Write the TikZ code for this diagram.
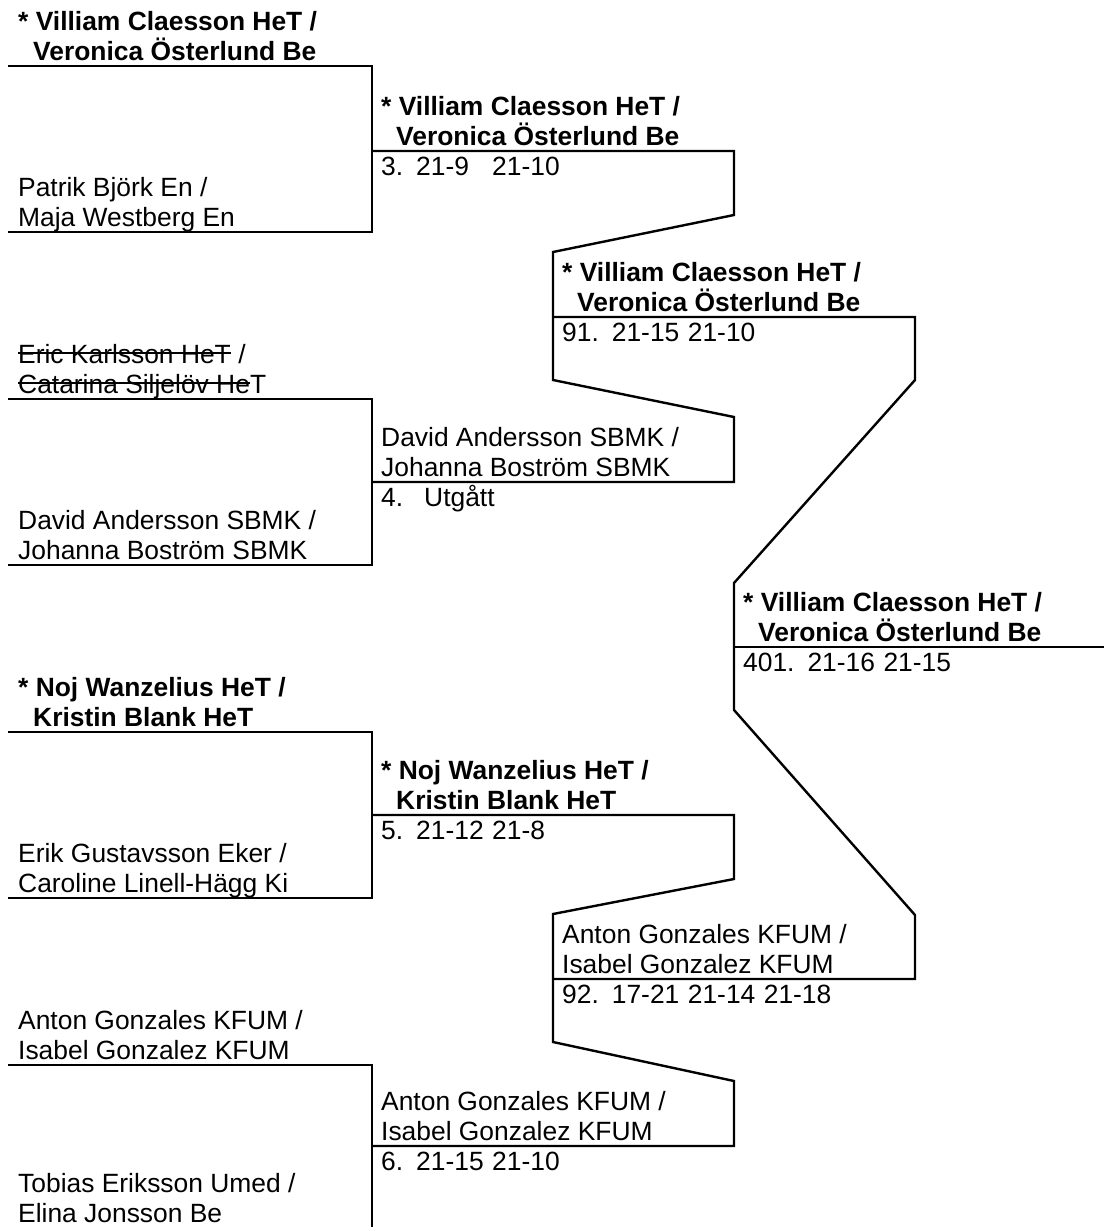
\documentclass[tikz,border=0pt]{standalone}
\usepackage{fontspec}
\setmainfont{Liberation Sans}
\usetikzlibrary{calc, positioning}

\newsavebox\strkbox
\newcommand\strk[1]{\sbox\strkbox{#1}\rlap{\rule[0.36em]{\wd\strkbox}{0.07em}}\usebox\strkbox}
\newcommand\gscore[1]{\makebox[76pt][l]{#1}}

\begin{document}
\begin{tikzpicture}[x=1pt,y=-1pt,line width=2.4pt,
	player/.style={anchor=base west, align=left, inner sep=0pt, font=\fontsize{26.4}{30}\selectfont},
	winner/.style={player, font=\fontsize{26.4}{30}\selectfont\bfseries},
	result/.style={player}]

	\useasboundingbox (0,0) rectangle (1104,1227);

	\coordinate (A1) at (8,66);
	\coordinate (A2) at (8,232);
	\coordinate (A3) at (8,399);
	\coordinate (A4) at (8,565);
	\coordinate (A5) at (8,732);
	\coordinate (A6) at (8,898);
	\coordinate (A7) at (8,1065);
	\coordinate (A8) at (8,1228);
	\coordinate (B1) at (372,151);
	\coordinate (B2) at (372,482);
	\coordinate (B3) at (372,815);
	\coordinate (B4) at (372,1146);
	\coordinate (C1) at (553,317);
	\coordinate (C2) at (553,979);
	\coordinate (D1) at (734,647);
	\coordinate (D2) at (1104,647);
	\coordinate (E) at (372,1227);

	\draw (A1) -- (A1 -| B1) -- (A2 -| B1) -- (A2);
	\draw (A3) -- (A3 -| B2) -- (A4 -| B2) -- (A4);
	\draw (A5) -- (A5 -| B3) -- (A6 -| B3) -- (A6);
	\draw (A7) -- (A7 -| B4) -- (E);

	\draw (B1) -- ++(362,0) -- ++(0,64) -- ($(C1)+(0,-65)$) -- ($(C1)+(0,63)$) -- ($(B2)+(362,-65)$) -- ($(B2)+(362,0)$) -- (B2);
	\draw (B3) -- ++(362,0) -- ++(0,64) -- ($(C2)+(0,-65)$) -- ($(C2)+(0,63)$) -- ($(B4)+(362,-65)$) -- ($(B4)+(362,0)$) -- (B4);

	\draw (C1) -- ++(362,0) -- ++(0,63) -- ($(D1)+(0,-64)$) -- ($(D1)+(0,63)$) -- ($(C2)+(362,-64)$) -- ($(C2)+(362,0)$) -- (C2);
	\draw (D1) -- (D2);

	\node[winner] (p1) at ($(A1)+(9,-6)$) {* Villiam Claesson HeT /\\\hspace*{15pt}Veronica Österlund Be};
	\node[player] (p2) at ($(A2)+(9,-6)$) {Patrik Björk En /\\Maja Westberg En};
	\node[player] (p3) at ($(A3)+(9,-6)$) {\strk{Eric Karlsson HeT} /\\\strk{Catarina Siljelöv He}T};
	\node[player] (p4) at ($(A4)+(9,-6)$) {David Andersson SBMK /\\Johanna Boström SBMK};
	\node[winner] (p5) at ($(A5)+(9,-6)$) {* Noj Wanzelius HeT /\\\hspace*{15pt}Kristin Blank HeT};
	\node[player] (p6) at ($(A6)+(9,-6)$) {Erik Gustavsson Eker /\\Caroline Linell-Hägg Ki};
	\node[player] (p7) at ($(A7)+(9,-6)$) {Anton Gonzales KFUM /\\Isabel Gonzalez KFUM};
	\node[player] (p8) at ($(A8)+(9,-6)$) {Tobias Eriksson Umed /\\Elina Jonsson Be};

	\node[winner] (q1) at ($(B1)+(8,-6)$) {* Villiam Claesson HeT /\\\hspace*{15pt}Veronica Österlund Be};
	\node[result] (r1) at ($(B1)+(8,24)$) {3.\hspace{13pt}\gscore{21-9}\gscore{21-10}};
	\node[player] (q2) at ($(B2)+(8,-6)$) {David Andersson SBMK /\\Johanna Boström SBMK};
	\node[result] (r2) at ($(B2)+(8,24)$) {4.\hspace{21pt}Utgått};
	\node[winner] (q3) at ($(B3)+(8,-6)$) {* Noj Wanzelius HeT /\\\hspace*{15pt}Kristin Blank HeT};
	\node[result] (r3) at ($(B3)+(8,24)$) {5.\hspace{13pt}\gscore{21-12}\gscore{21-8}};
	\node[player] (q4) at ($(B4)+(8,-6)$) {Anton Gonzales KFUM /\\Isabel Gonzalez KFUM};
	\node[result] (r4) at ($(B4)+(8,24)$) {6.\hspace{13pt}\gscore{21-15}\gscore{21-10}};

	\node[winner] (s1) at ($(C1)+(8,-6)$) {* Villiam Claesson HeT /\\\hspace*{15pt}Veronica Österlund Be};
	\node[result] (t1) at ($(C1)+(8,24)$) {91.\hspace{13pt}\gscore{21-15}\gscore{21-10}};
	\node[player] (s2) at ($(C2)+(8,-6)$) {Anton Gonzales KFUM /\\Isabel Gonzalez KFUM};
	\node[result] (t2) at ($(C2)+(8,24)$) {92.\hspace{13pt}\gscore{17-21}\gscore{21-14}\gscore{21-18}};

	\node[winner] (f1) at ($(D1)+(8,-6)$) {* Villiam Claesson HeT /\\\hspace*{15pt}Veronica Österlund Be};
	\node[result] (g1) at ($(D1)+(8,24)$) {401.\hspace{13pt}\gscore{21-16}\gscore{21-15}};

\end{tikzpicture}
\end{document}
